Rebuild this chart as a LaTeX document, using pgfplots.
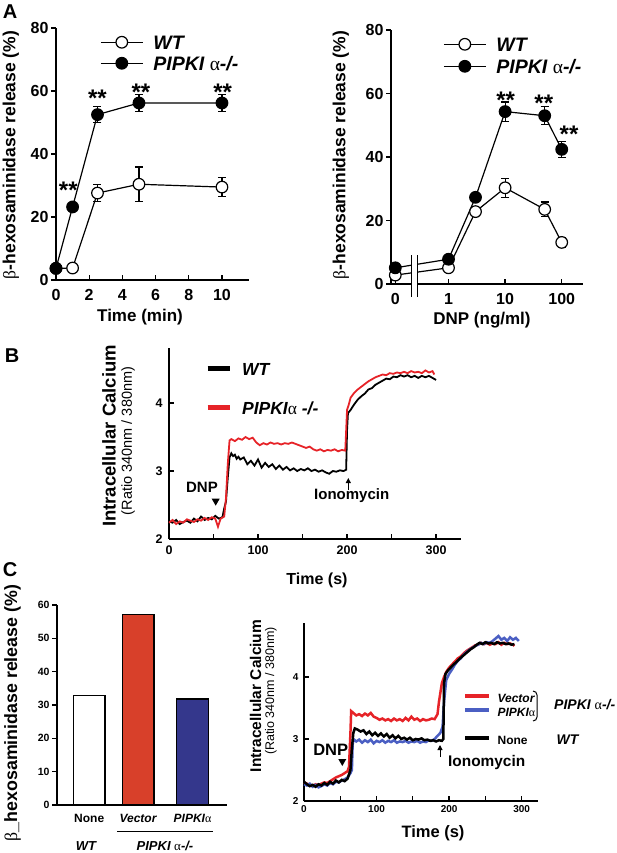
\documentclass[border=0pt]{standalone}
\usepackage{pgfplots}
\pgfplotsset{compat=1.18}
\usepackage{fontspec}
\setmainfont{Liberation Sans}
\newfontfamily\symf{Liberation Serif}
\usetikzlibrary{arrows.meta}
\newcommand{\fs}[1]{\fontsize{#1}{#1}\selectfont}
\newcommand{\al}{{\symf\mdseries\upshape α}}
\newcommand{\be}{{\symf\mdseries\upshape β}}
\definecolor{lred}{RGB}{230,35,40}
\definecolor{lblue}{RGB}{75,95,195}
\definecolor{bred}{RGB}{216,64,42}
\definecolor{bblue}{RGB}{52,55,140}
\pgfplotsset{
  base/.style={scale only axis, anchor=south west, clip=false,
    axis x line*=bottom, axis y line*=left,
    axis line style={line width=1.3pt, -},
    every tick/.append style={black, line width=1.3pt},
    major tick length=5pt, tick align=inside,
    /pgf/number format/assume math mode=true,
  },
  wt/.style={black, line width=1.2pt, mark=*, mark size=5.8pt, mark options={fill=white, solid},
    error bars/.cd, y dir=both, y explicit, error bar style={line width=1.2pt},
    error mark options={rotate=90, mark size=4pt, line width=1.2pt}},
  ko/.style={black, line width=1.2pt, mark=*, mark size=5.8pt, mark options={fill=black, solid},
    error bars/.cd, y dir=both, y explicit, error bar style={line width=1.2pt},
    error mark options={rotate=90, mark size=4pt, line width=1.2pt}},
  leglong/.style={legend image code/.code={\draw[mark repeat=2,mark phase=2] plot coordinates {(0pt,0pt)(21pt,0pt)(42pt,0pt)};}},
}
\begin{document}
\begin{tikzpicture}
\path[use as bounding box] (0,0) rectangle (617pt,-853pt);

% ---------------- Panel A left
\begin{axis}[base, at={(56pt,-280pt)}, width=193pt, height=252pt,
  xmin=0, xmax=11.63, ymin=0, ymax=80,
  xtick={0,2,4,6,8,10}, ytick={0,20,40,60,80},
  ytick style={xshift=-5pt},
  tick label style={font=\bfseries\fs{16}},
  xticklabel style={yshift=-6pt}, yticklabel style={xshift=-4pt},
  legend cell align=left,
  legend style={draw=none, fill=none, inner sep=0pt, row sep=5pt,
    at={(0.228,0.976)}, anchor=north west,
    nodes={inner sep=1pt, text height=14pt, text depth=0pt},
    font=\bfseries\itshape\fs{19.5},
    /tikz/every odd column/.append style={column sep=9pt}},
  leglong]
\addplot[wt] coordinates {(0,3.7) +- (0,0) (1,3.8) +- (0,0) (2.5,27.6) +- (0,2.8) (5,30.4) +- (0,5.5) (10,29.5) +- (0,3)};
\addlegendentry{WT}
\addplot[ko] coordinates {(0,3.7) +- (0,0) (1,23.2) +- (0,0) (2.5,52.5) +- (0,2.5) (5,56.2) +- (0,2.8) (10,56.2) +- (0,2.8)};
\addlegendentry{PIPKI \al-/-}
\node[anchor=north, inner sep=0pt, font=\bfseries\fs{24}] at (axis cs:0.74,31.2) {**};
\node[anchor=north, inner sep=0pt, font=\bfseries\fs{24}] at (axis cs:2.5,60.5) {**};
\node[anchor=north, inner sep=0pt, font=\bfseries\fs{24}] at (axis cs:5.12,62.4) {**};
\node[anchor=north, inner sep=0pt, font=\bfseries\fs{24}] at (axis cs:10.04,62.4) {**};
\end{axis}

% ---------------- Panel A right
\begin{axis}[base, at={(391pt,-284pt)}, width=192pt, height=254pt,
  xmin=-1.016, xmax=2.376, ymin=0, ymax=80,
  xtick={-0.94,0,1,2}, xticklabels={0,1,10,100}, ytick={0,20,40,60,80},
  ytick style={xshift=-5pt},
  tick label style={font=\bfseries\fs{16}},
  xticklabel style={yshift=-6pt}, yticklabel style={xshift=-4pt},
  legend cell align=left,
  legend style={draw=none, fill=none, inner sep=0pt, row sep=6pt,
    at={(0.271,0.976)}, anchor=north west,
    nodes={inner sep=1pt, text height=14pt, text depth=0pt},
    font=\bfseries\itshape\fs{19.5},
    /tikz/every odd column/.append style={column sep=9pt}},
  leglong]
\addplot[wt] coordinates {(-0.94,2.8) +- (0,0) (0,5.1) +- (0,0) (0.477,22.8) +- (0,0) (1,30.3) +- (0,3) (1.699,23.5) +- (0,2.3) (2,13.1) +- (0,1.5)};
\addlegendentry{WT}
\addplot[ko] coordinates {(-0.94,5.1) +- (0,0) (0,7.8) +- (0,0) (0.477,27.3) +- (0,0) (1,54.3) +- (0,3) (1.699,53) +- (0,2.8) (2,42.4) +- (0,2.5)};
\addlegendentry{PIPKI \al-/-}
\fill[white] (axis cs:-0.658,-4) rectangle (axis cs:-0.547,9);
\draw[line width=1.2pt] (axis cs:-0.658,-4) -- (axis cs:-0.658,9);
\draw[line width=1.2pt] (axis cs:-0.547,-4) -- (axis cs:-0.547,9);
\node[anchor=north, inner sep=0pt, font=\bfseries\fs{24}] at (axis cs:1.01,60.6) {**};
\node[anchor=north, inner sep=0pt, font=\bfseries\fs{24}] at (axis cs:1.683,59.5) {**};
\node[anchor=north, inner sep=0pt, font=\bfseries\fs{24}] at (axis cs:2.13,49.8) {**};
\end{axis}

% ---------------- Panel B
\begin{axis}[base, at={(169pt,-539pt)}, width=292pt, height=191pt,
  xmin=0, xmax=328, ymin=2, ymax=4.81,
  xtick={0,50,...,300}, xticklabels={0,,100,,200,,300}, ytick={2,3,4},
  tick label style={font=\bfseries\fs{12.5}},
  xticklabel style={yshift=-3pt}, yticklabel style={xshift=-3pt},
  legend cell align=left,
  legend style={draw=none, fill=none, inner sep=0pt, row sep=24pt,
    at={(0.123,0.932)}, anchor=north west,
    nodes={inner sep=1pt, text height=13pt, text depth=0pt},
    font=\bfseries\itshape\fs{17.5},
    /tikz/every odd column/.append style={column sep=9pt}},
  legend image code/.code={\draw[line width=5pt] (0pt,0pt) -- (22pt,0pt);}]
\addplot[black, line width=1.8pt] coordinates {
(0,2.26)(4,2.24)(8,2.28)(12,2.22)(16,2.25)(20,2.27)(24,2.24)(28,2.30)(32,2.26)(36,2.33)
(40,2.28)(44,2.31)(48,2.29)(52,2.34)(56,2.30)(60,2.32)(62,2.45)(64,2.55)(66,2.90)(68,3.20)
(70,3.26)(72,3.22)(74,3.24)(76,3.18)(78,3.21)(80,3.17)(84,3.20)(88,3.10)(92,3.15)(96,3.08)
(100,3.17)(104,3.05)(108,3.12)(112,3.06)(116,3.10)(120,3.03)(124,3.08)(128,3.02)(132,3.06)
(136,3.01)(140,3.04)(144,3.00)(148,3.03)(152,3.01)(156,3.04)(160,3.00)(164,3.02)(168,2.99)
(172,3.01)(176,2.98)(180,2.96)(184,3.00)(188,2.99)(192,3.01)(196,3.00)(199,3.02)(200,3.60)
(201,3.85)(204,3.90)(208,3.98)(212,4.05)(216,4.10)(220,4.14)(224,4.20)(228,4.22)(232,4.27)
(236,4.30)(240,4.33)(244,4.36)(248,4.35)(252,4.39)(256,4.38)(260,4.41)(264,4.39)(268,4.41)
(272,4.38)(276,4.40)(280,4.37)(284,4.40)(288,4.38)(292,4.40)(296,4.37)(300,4.34)};
\addlegendentry{WT}
\addplot[lred, line width=1.8pt] coordinates {
(0,2.24)(4,2.28)(8,2.22)(12,2.26)(16,2.24)(20,2.29)(24,2.27)(28,2.25)(32,2.29)(36,2.27)
(40,2.31)(44,2.28)(48,2.32)(52,2.30)(55,2.18)(58,2.30)(62,2.33)(64,2.60)(66,3.10)(68,3.45)
(70,3.47)(74,3.44)(78,3.48)(82,3.46)(86,3.50)(90,3.47)(94,3.49)(98,3.42)(102,3.38)(106,3.41)
(110,3.39)(114,3.42)(118,3.40)(122,3.41)(126,3.39)(130,3.41)(134,3.40)(138,3.42)(142,3.40)
(146,3.38)(150,3.36)(154,3.34)(158,3.36)(162,3.32)(166,3.30)(170,3.32)(174,3.29)(178,3.31)
(182,3.30)(186,3.32)(190,3.29)(194,3.31)(198,3.30)(200,3.90)(202,3.98)(204,4.08)(208,4.15)
(212,4.20)(216,4.24)(220,4.28)(224,4.32)(228,4.35)(232,4.38)(236,4.40)(240,4.42)(244,4.41)
(248,4.44)(252,4.43)(256,4.45)(260,4.44)(264,4.46)(268,4.44)(272,4.47)(276,4.45)(280,4.46)
(284,4.44)(288,4.48)(292,4.45)(296,4.47)(298,4.42)};
\addlegendentry{PIPKI\al\ -/-}
\end{axis}

% ---------------- Panel C left
\begin{axis}[base, at={(57pt,-805pt)}, width=170pt, height=200pt,
  xmin=-0.657, xmax=2.81, ymin=0, ymax=60,
  xtick={0,1,2.108}, xticklabels={None,\textit{Vector},\textit{PIPKI}\al},
  xtick style={draw=none},
  ytick={0,10,...,60}, ytick style={xshift=-5pt},
  tick label style={font=\bfseries\fs{10.5}},
  xticklabel style={font=\bfseries\fs{12}, yshift=-6pt}, yticklabel style={xshift=-4pt}]
\addplot[ybar, bar width=31.7pt, bar shift=0pt, fill=white, draw=black, line width=1.3pt] coordinates {(0,32.8)};
\addplot[ybar, bar width=31.7pt, bar shift=0pt, fill=bred, draw=black, line width=1.3pt] coordinates {(1,57.2)};
\addplot[ybar, bar width=31.7pt, bar shift=0pt, fill=bblue, draw=black, line width=1.3pt] coordinates {(2.108,31.8)};
\end{axis}

% ---------------- Panel C right
\begin{axis}[base, at={(304pt,-801pt)}, width=234pt, height=178pt,
  xmin=0, xmax=322.5, ymin=2, ymax=4.87,
  xtick={0,50,...,300}, xticklabels={0,,100,,200,,300}, ytick={2,3,4},
  tick label style={font=\bfseries\fs{10}},
  xticklabel style={yshift=-1pt}, yticklabel style={xshift=-2pt},
  legend cell align=left,
  legend style={draw=none, fill=none, inner sep=0pt, row sep=0pt,
    at={(0.679,0.629)}, anchor=north west,
    nodes={inner sep=1pt, text height=12pt, text depth=0pt},
    font=\bfseries\fs{12},
    /tikz/every odd column/.append style={column sep=5pt}},
  legend image code/.code={\draw[line width=4.5pt] (0pt,0pt) -- (24pt,0pt);}]
\addplot[lred, line width=2.5pt] coordinates {
(0,2.30)(4,2.28)(8,2.26)(12,2.24)(16,2.27)(20,2.25)(24,2.28)(28,2.30)(32,2.29)(36,2.32)
(40,2.35)(44,2.38)(48,2.40)(52,2.42)(56,2.45)(60,2.48)(62,2.55)(64,3.10)(65,3.45)(68,3.42)
(72,3.38)(76,3.40)(80,3.37)(84,3.41)(88,3.38)(92,3.42)(96,3.36)(100,3.34)(104,3.31)(108,3.33)
(112,3.30)(116,3.32)(120,3.29)(124,3.33)(128,3.30)(132,3.32)(136,3.29)(140,3.34)(144,3.30)
(148,3.36)(152,3.31)(156,3.33)(160,3.29)(164,3.32)(168,3.30)(172,3.31)(176,3.33)(180,3.32)
(184,3.40)(186,3.60)(188,3.75)(190,3.90)(193,4.00)(196,4.08)(200,4.15)(204,4.20)(208,4.25)
(212,4.30)(216,4.33)(220,4.38)(224,4.42)(228,4.45)(232,4.48)(236,4.51)(240,4.52)(244,4.55)
(248,4.53)(252,4.55)(256,4.52)(260,4.54)(264,4.53)(268,4.56)(272,4.52)(276,4.55)(280,4.53)
(284,4.54)(288,4.52)(290,4.50)};
\addlegendentry{\itshape Vector}
\addplot[lblue, line width=2.5pt] coordinates {
(0,2.27)(4,2.25)(8,2.28)(12,2.23)(16,2.26)(20,2.22)(24,2.24)(28,2.27)(32,2.25)(36,2.29)
(40,2.27)(44,2.31)(48,2.30)(52,2.33)(56,2.35)(60,2.38)(64,2.45)(66,2.50)(67,2.90)(68,3.00)
(72,2.96)(76,2.99)(80,2.94)(84,2.98)(88,2.95)(92,2.99)(96,2.93)(100,2.97)(104,2.95)(108,2.98)
(112,2.94)(116,2.97)(120,2.95)(124,2.98)(128,2.94)(132,2.96)(136,2.95)(140,2.97)(144,2.94)
(148,2.96)(152,2.95)(156,2.97)(160,2.94)(164,2.96)(168,2.95)(172,2.98)(176,2.97)(180,3.00)
(184,3.05)(188,3.10)(191,3.20)(193,3.60)(196,3.95)(200,4.05)(204,4.12)(208,4.20)(212,4.26)
(216,4.30)(220,4.36)(224,4.40)(228,4.44)(232,4.47)(236,4.50)(240,4.52)(244,4.55)(248,4.53)
(252,4.56)(256,4.55)(260,4.58)(264,4.62)(268,4.66)(272,4.60)(276,4.63)(280,4.58)(284,4.64)
(288,4.60)(292,4.63)(296,4.58)};
\addlegendentry{\itshape PIPKI\al}
\addlegendimage{empty legend}
\addlegendentry{}
\addplot[black, line width=2.5pt] coordinates {
(0,2.31)(4,2.27)(8,2.24)(12,2.26)(16,2.23)(20,2.27)(24,2.25)(28,2.29)(32,2.26)(36,2.31)
(40,2.28)(44,2.33)(48,2.30)(52,2.34)(56,2.32)(60,2.36)(64,2.50)(66,2.85)(68,3.10)(70,3.17)
(74,3.15)(78,3.12)(82,3.14)(86,3.08)(90,3.12)(94,3.06)(98,3.10)(102,3.05)(106,3.09)(110,3.04)
(114,3.08)(118,3.02)(122,3.06)(126,3.01)(130,3.05)(134,3.00)(138,3.02)(142,2.99)(146,3.02)
(150,2.98)(154,3.00)(158,2.99)(162,3.01)(166,2.98)(170,2.99)(174,2.97)(178,2.98)(182,2.96)
(186,2.98)(190,2.97)(192,3.00)(193,3.90)(195,4.05)(198,4.10)(202,4.15)(206,4.20)(210,4.24)
(214,4.29)(218,4.33)(222,4.37)(226,4.41)(230,4.45)(234,4.48)(238,4.52)(242,4.55)(246,4.53)
(250,4.56)(254,4.54)(258,4.55)(262,4.53)(266,4.56)(270,4.54)(274,4.55)(278,4.53)(282,4.54)
(286,4.52)(290,4.53)};
\addlegendentry{None}
\end{axis}

% ---------------- Texts
\node[font=\bfseries\fs{20}] at (10pt,-12pt) {A};
\node[font=\bfseries\fs{20}] at (12pt,-356pt) {B};
\node[font=\bfseries\fs{20}] at (10pt,-570pt) {C};
\node[rotate=90, font=\bfseries\fs{17.5}] at (11pt,-155pt) {\be-hexosaminidase release (\%)};
\node[rotate=90, font=\bfseries\fs{17.5}] at (341pt,-155pt) {\be-hexosaminidase release (\%)};
\node[font=\bfseries\fs{17}] at (140pt,-317pt) {Time (min)};
\node[font=\bfseries\fs{17}] at (482pt,-320pt) {DNP (ng/ml)};
% B
\node[rotate=90, font=\bfseries\fs{18.5}] at (109pt,-436pt) {Intracellular Calcium};
\node[rotate=90, font=\fs{14.5}] at (128pt,-441pt) {(Ratio 340nm / 380nm)};
\node[font=\bfseries\fs{16}] at (317pt,-580pt) {Time (s)};
\node[font=\bfseries\fs{15}] at (202pt,-487pt) {DNP};
\fill (211.7pt,-498.7pt) -- (219.7pt,-498.7pt) -- (215.7pt,-505.7pt) -- cycle;
\node[font=\bfseries\fs{15}] at (351.7pt,-496pt) {Ionomycin};
\draw[line width=1pt, -{Triangle[width=5pt,length=5pt]}] (348.3pt,-490pt) -- (348.3pt,-478pt);
% C left
\node[rotate=90, font=\bfseries\fs{17.8}] at (12.5pt,-713pt) {\be\_hexosaminidase release (\%)};
\draw[line width=1pt] (117pt,-831.7pt) -- (213pt,-831.7pt);
\node[font=\bfseries\itshape\fs{13}] at (86pt,-846pt) {WT};
\node[font=\bfseries\itshape\fs{13}] at (165pt,-846pt) {PIPKI \al-/-};
% C right
\node[rotate=90, font=\bfseries\fs{15.5}] at (255.5pt,-696pt) {Intracellular Calcium};
\node[rotate=90, font=\fs{12.5}] at (271pt,-691pt) {(Ratio 340nm / 380nm)};
\node[font=\bfseries\fs{16.5}] at (330.7pt,-750pt) {DNP};
\fill (338.3pt,-759pt) -- (346.3pt,-759pt) -- (342.3pt,-766pt) -- cycle;
\draw[line width=1pt, -{Triangle[width=5pt,length=5pt]}] (440pt,-757pt) -- (440pt,-745pt);
\node[font=\bfseries\fs{15.4}] at (486.7pt,-762.5pt) {Ionomycin};
\node[font=\bfseries\fs{16.5}] at (433pt,-833pt) {Time (s)};
\draw[line width=1pt] (533pt,-691pt) to[out=0,in=90] (537pt,-695pt) -- (537pt,-717pt) to[out=-90,in=0] (533pt,-721pt);
\node[anchor=west, font=\bfseries\itshape\fs{14}] at (550.7pt,-705pt) {PIPKI \al-/-};
\node[anchor=west, font=\bfseries\itshape\fs{14}] at (553pt,-740pt) {WT};
\end{tikzpicture}
\end{document}
